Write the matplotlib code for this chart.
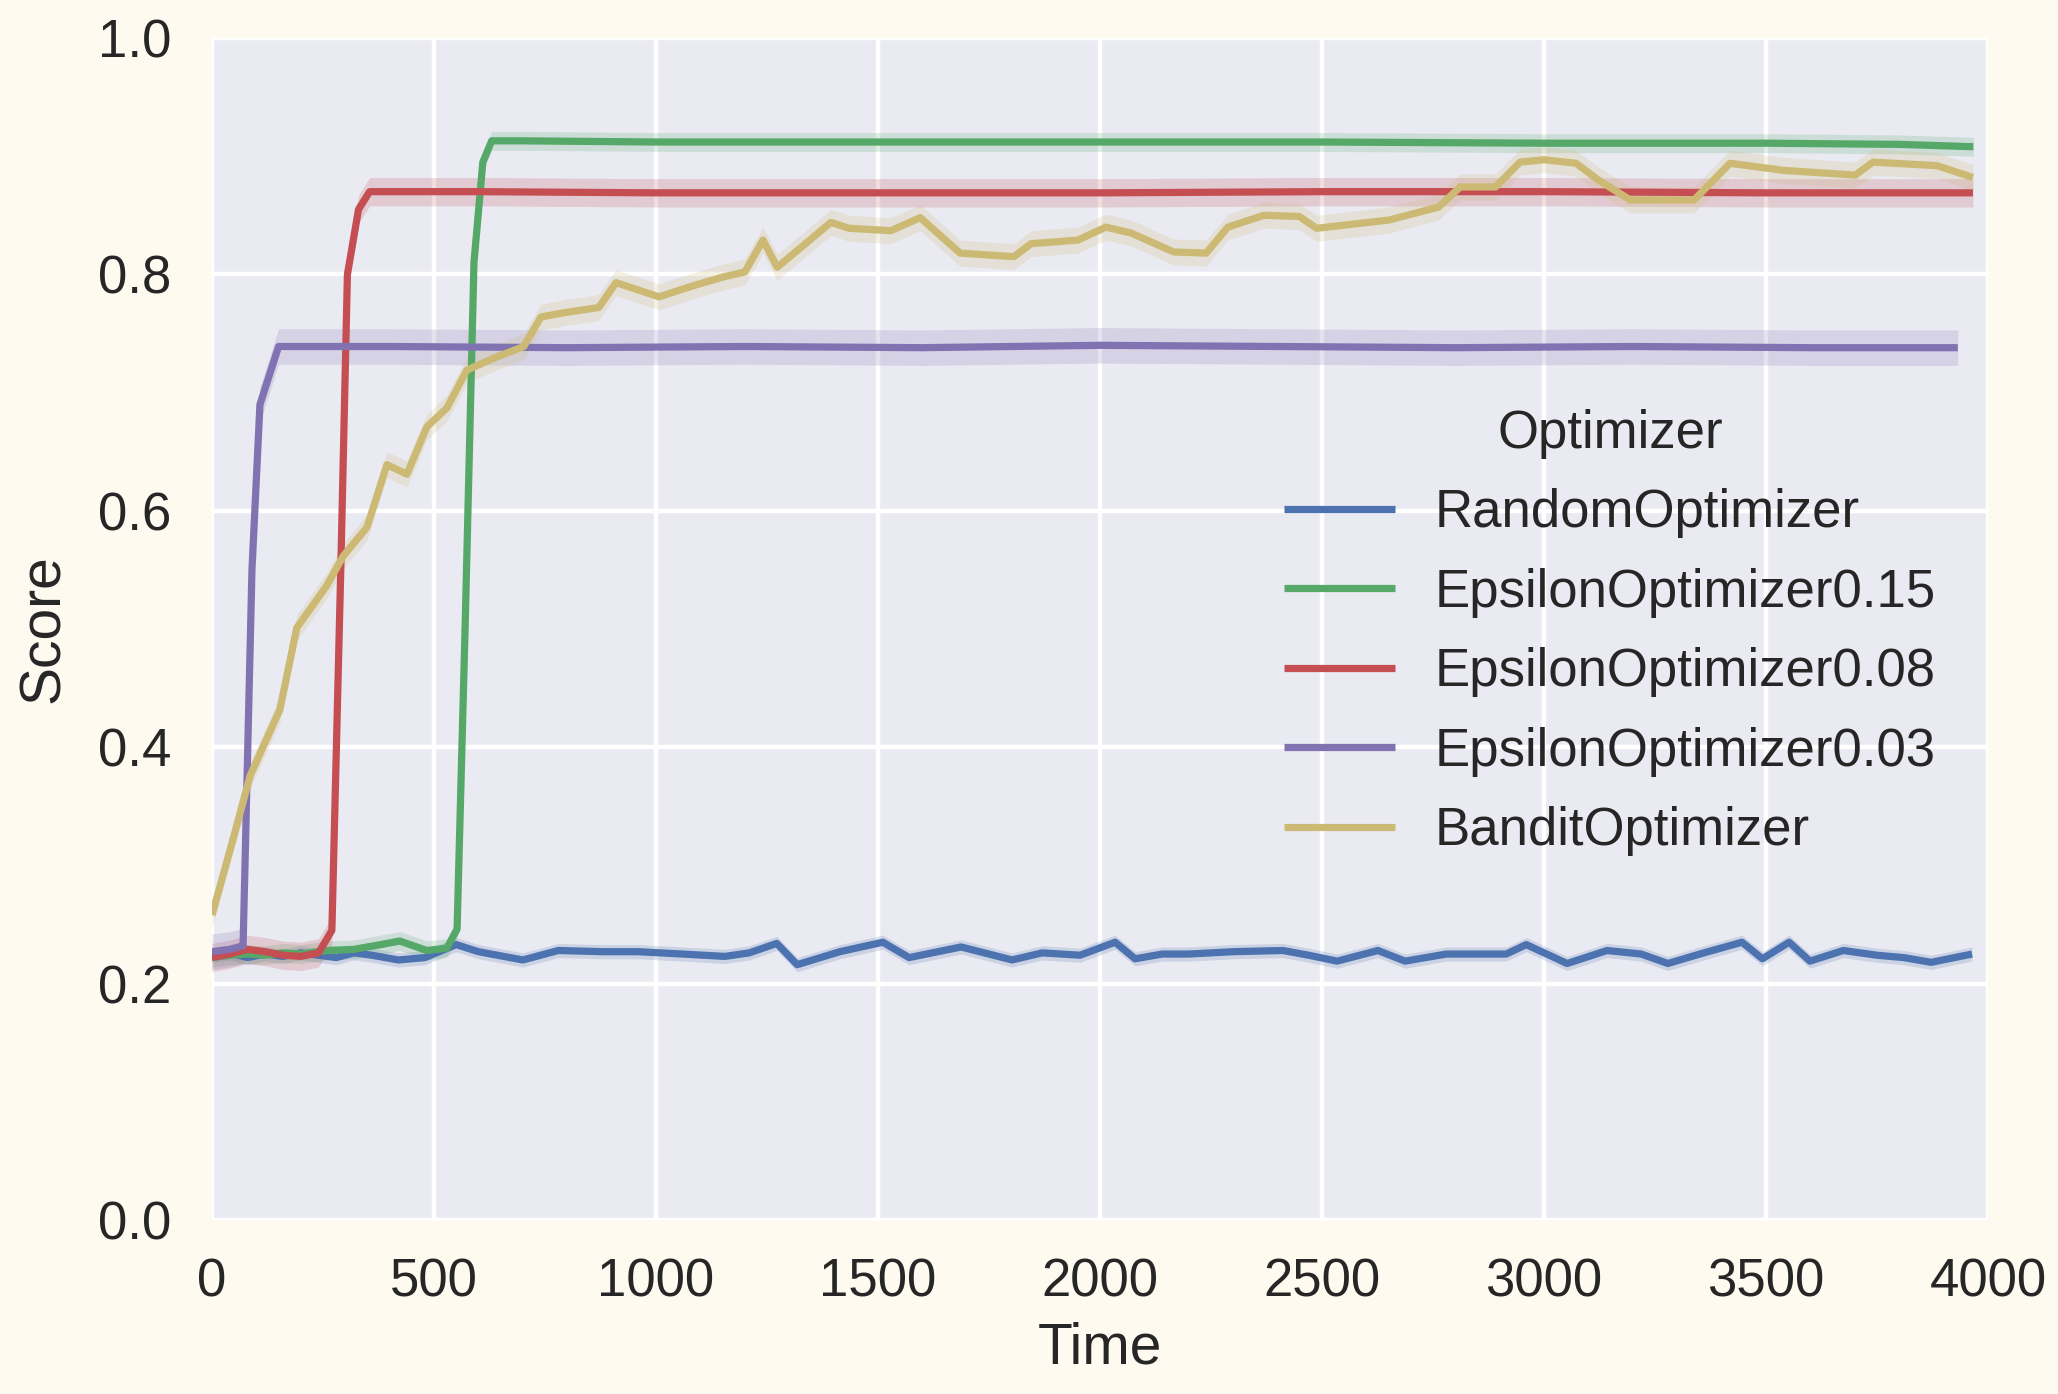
import matplotlib
matplotlib.use("Agg")
from matplotlib import pyplot as plt
import numpy as np

# Series (time, mean score)
names = ["RandomOptimizer", "EpsilonOptimizer0.15", "EpsilonOptimizer0.08",
         "EpsilonOptimizer0.03", "BanditOptimizer"]
colors = ["#4C72B0", "#55A868", "#C44E52", "#8172B2", "#CCB974"]

random_t = [0, 40, 80, 120, 160, 200, 240, 280, 320, 360, 420, 480, 550, 600, 700,
            780, 880, 960, 1060, 1155, 1210, 1272, 1318, 1414, 1511, 1570, 1687, 1802,
            1870, 1955, 2034, 2079, 2140, 2200, 2300, 2412, 2470, 2534, 2626, 2687,
            2780, 2850, 2915, 2960, 3052, 3142, 3219, 3279, 3360, 3446, 3492, 3552,
            3599, 3674, 3750, 3810, 3872, 3964]
random_s = [0.224, 0.226, 0.222, 0.225, 0.223, 0.226, 0.224, 0.222, 0.226, 0.224, 0.220,
            0.222, 0.233, 0.227, 0.220, 0.228, 0.227, 0.227, 0.225, 0.223, 0.226, 0.234,
            0.216, 0.227, 0.235, 0.222, 0.231, 0.220, 0.226, 0.224, 0.235, 0.221, 0.225,
            0.225, 0.227, 0.228, 0.224, 0.219, 0.228, 0.219, 0.225, 0.225, 0.225, 0.233,
            0.217, 0.228, 0.225, 0.217, 0.226, 0.235, 0.221, 0.235, 0.219, 0.228, 0.224,
            0.222, 0.218, 0.225]

eps15_t = [0, 40, 80, 120, 160, 200, 260, 320, 380, 423, 484, 529, 552, 570, 590, 610,
           630, 700, 1000, 1500, 2000, 2500, 3000, 3500, 3800, 3967]
eps15_s = [0.222, 0.224, 0.225, 0.224, 0.226, 0.225, 0.228, 0.229, 0.233, 0.236, 0.228,
           0.230, 0.246, 0.50, 0.81, 0.895, 0.913, 0.913, 0.912, 0.912, 0.912, 0.912,
           0.911, 0.911, 0.910, 0.908]

eps08_t = [0, 40, 80, 120, 160, 200, 240, 270, 290, 305, 330, 355, 600, 1000, 1500,
           2000, 2500, 3000, 3500, 3966]
eps08_s = [0.222, 0.225, 0.229, 0.227, 0.224, 0.223, 0.226, 0.245, 0.55, 0.80, 0.855,
           0.870, 0.870, 0.869, 0.869, 0.869, 0.870, 0.870, 0.869, 0.869]

eps03_t = [0, 40, 70, 90, 108, 150, 400, 800, 1200, 1600, 2000, 2400, 2800, 3200,
           3600, 3932]
eps03_s = [0.227, 0.229, 0.232, 0.55, 0.69, 0.739, 0.739, 0.738, 0.739, 0.738, 0.740,
           0.739, 0.738, 0.739, 0.738, 0.738]

bandit_t = [0, 48, 86, 153, 191, 259, 296, 349, 394, 439, 484, 529, 574, 640, 702, 741,
            800, 871, 910, 1007, 1080, 1153, 1200, 1241, 1273, 1394, 1435, 1529, 1595,
            1685, 1806, 1845, 1950, 2013, 2070, 2166, 2239, 2288, 2369, 2449, 2488,
            2651, 2763, 2811, 2891, 2946, 3000, 3072, 3122, 3194, 3338, 3419, 3540,
            3701, 3741, 3885, 3966]
bandit_s = [0.258, 0.323, 0.376, 0.432, 0.501, 0.537, 0.562, 0.586, 0.639, 0.631, 0.671,
            0.687, 0.719, 0.730, 0.739, 0.764, 0.768, 0.772, 0.793, 0.781, 0.790, 0.798,
            0.802, 0.829, 0.806, 0.844, 0.839, 0.837, 0.848, 0.818, 0.815, 0.826, 0.829,
            0.840, 0.835, 0.819, 0.818, 0.840, 0.850, 0.849, 0.839, 0.846, 0.857, 0.874,
            0.874, 0.895, 0.897, 0.894, 0.880, 0.863, 0.863, 0.894, 0.888, 0.884, 0.895,
            0.892, 0.882]

# half width of the shaded confidence band per series
band_half = [0.006, 0.008, 0.012, 0.015, 0.011]

series = [(random_t, random_s), (eps15_t, eps15_s), (eps08_t, eps08_s),
          (eps03_t, eps03_s), (bandit_t, bandit_s)]

plt.rcParams["font.family"] = ["Liberation Sans", "DejaVu Sans"]

fig = plt.figure(figsize=(20.58, 13.94), dpi=100, facecolor="#fffaf0")
ax = fig.add_axes([212 / 2058, 1 - 1220 / 1394, 1776 / 2058, 1182 / 1394])
ax.set_facecolor("#EAEAF2")
for sp in ax.spines.values():
    sp.set_visible(False)
ax.grid(True, color="white", linewidth=3.2)
ax.set_axisbelow(True)

# Bands first, then lines
for (t, s), c, b in zip(series, colors, band_half):
    t = np.array(t)
    s = np.array(s)
    ax.fill_between(t, s - b, s + b, color=c, alpha=0.2, linewidth=0)
for (t, s), c, name in zip(series, colors, names):
    ax.plot(t, s, color=c, linewidth=5.2, label=name, solid_capstyle="butt")

ax.set_xlim(0, 4000)
ax.set_ylim(0, 1.0)
ax.set_xticks(np.arange(0, 4001, 500))
ax.set_yticks(np.arange(0, 1.01, 0.2))
ax.set_yticklabels(["%.1f" % v for v in np.arange(0, 1.01, 0.2)])
ax.tick_params(axis="x", length=0, pad=27, labelsize=38, labelcolor="#262626")
ax.tick_params(axis="y", length=0, pad=29, labelsize=38, labelcolor="#262626")
ax.set_xlabel("Time", fontsize=41, color="#262626", labelpad=10)
ax.set_ylabel("Score", fontsize=41, color="#262626", labelpad=20)

leg = ax.legend(title="Optimizer", loc="center left", bbox_to_anchor=(0.577, 0.497),
                frameon=False, fontsize=38, title_fontsize=38, handlelength=2.1,
                handletextpad=0.75, labelspacing=0.56)
for line in leg.get_lines():
    line.set_linewidth(5.2)
for txt in leg.get_texts():
    txt.set_color("#262626")
leg.get_title().set_color("#262626")

fig.savefig("out.png", dpi=100, facecolor=fig.get_facecolor())
